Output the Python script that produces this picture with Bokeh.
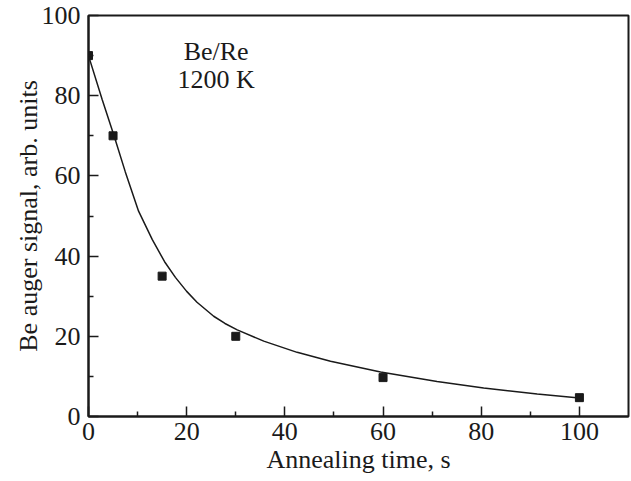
from bokeh.plotting import figure
from bokeh.embed import file_html
from bokeh.resources import INLINE
from bokeh.models import Range1d, FixedTicker, ColumnDataSource
from bokeh.core.properties import value

# measured points
time_s = [0, 5, 15, 30, 60, 100]
signal = [90, 70, 35, 20, 9.7, 4.7]

# fitted curve
fit_time = [0, 2.8, 5.2, 7.5, 10.2, 13, 15.5, 17.7, 20, 22.1, 25.5, 27.8, 30.3,
            35.7, 42.5, 49.3, 59.5, 71, 80.5, 91.4, 100]
fit_signal = [90, 79, 70, 61, 51.2, 44.1, 38.6, 34.7, 31.2, 28.5, 25.0, 23.2, 21.6,
              18.8, 16.0, 13.8, 11.1, 8.7, 7.1, 5.6, 4.6]

x_ticks = [0, 20, 40, 60, 80, 100]
y_ticks = [0, 20, 40, 60, 80, 100]
minor_ticks = [10, 30, 50, 70, 90]
annotation = ["Be/Re", "1200 K"]
annot_x = [26, 26]
annot_y = [91, 84]

FONT = "Liberation Serif"
INK = "#1a1a1a"

p = figure(width=630, height=480, output_backend="svg", toolbar_location=None,
           sizing_mode="fixed",
           x_range=Range1d(0, 110), y_range=Range1d(0, 100),
           min_border_left=88, min_border_top=15, min_border_right=2, min_border_bottom=64)
p.outline_line_color = INK
p.outline_line_width = 2
p.grid.visible = False
p.background_fill_color = "white"
p.border_fill_color = "white"

for ax in (p.xaxis[0], p.yaxis[0]):
    ax.axis_line_color = INK
    ax.axis_line_width = 2
    ax.major_tick_in = 10
    ax.major_tick_out = 0
    ax.minor_tick_in = 5
    ax.minor_tick_out = 0
    ax.major_tick_line_color = INK
    ax.minor_tick_line_color = INK
    ax.major_tick_line_width = 1.5
    ax.minor_tick_line_width = 1.5
    ax.major_label_text_font = FONT
    ax.major_label_text_font_size = "26px"
    ax.major_label_text_color = INK
    ax.axis_label_text_font = FONT
    ax.axis_label_text_font_size = "26px"
    ax.axis_label_text_font_style = "normal"
    ax.axis_label_text_color = INK

p.xaxis.ticker = FixedTicker(ticks=x_ticks, minor_ticks=minor_ticks)
p.yaxis.ticker = FixedTicker(ticks=y_ticks, minor_ticks=minor_ticks)
p.xaxis.axis_label = "Annealing time, s"
p.yaxis.axis_label = "Be auger signal, arb. units"
p.xaxis.major_label_standoff = 6
p.xaxis.axis_label_standoff = 2
p.yaxis.major_label_standoff = 8
p.yaxis.axis_label_standoff = -4

p.line(fit_time, fit_signal, line_color=INK, line_width=1.5)
p.scatter(time_s, signal, marker="square", size=8, fill_color=INK, line_color=INK)

src = ColumnDataSource(dict(x=annot_x, y=annot_y, t=annotation))
p.text(x="x", y="y", text="t", source=src, text_font=value(FONT), text_font_size="26px",
       text_align="center", text_baseline="alphabetic", text_color=INK)

open("out.html", "w").write(file_html(p, INLINE))
